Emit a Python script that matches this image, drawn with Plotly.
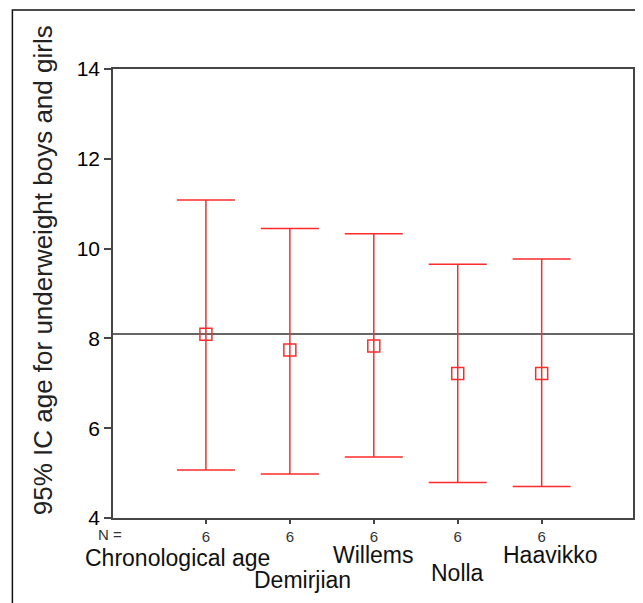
import plotly.graph_objects as go

# ---- data ----
categories = ["Chronological age", "Demirjian", "Willems", "Nolla", "Haavikko"]
n_values = [6, 6, 6, 6, 6]
means = [8.09, 7.74, 7.83, 7.22, 7.22]
upper = [11.08, 10.45, 10.33, 9.65, 9.77]
lower = [5.07, 4.98, 5.36, 4.79, 4.70]
reference_age = 8.1
y_ticks = [4, 6, 8, 10, 12, 14]
y_title = "95% IC age for underweight boys and girls"

# ---- styles / positions ----
FONT = "Liberation Sans, Arial, sans-serif"
RED = "#ff2b2b"
AXIS = "#454545"
label_xshift = [-28, 13, 0, 0, 9]
label_yshift = [-40, -62, -37, -55, -37]

OFF = 8  # page body margin
W, H = 643 - OFF, 603 - OFF
L, T = 113 - OFF, 69 - OFF
R = W - (635 - OFF)
B = H - (518 - OFF)
pw, ph = W - L - R, H - T - B

def px(x):
    return (x - OFF - L) / pw

def py(y):
    return (H - B - (y - OFF)) / ph

xpos = list(range(1, len(categories) + 1))
err_plus = [u - m for u, m in zip(upper, means)]
err_minus = [m - l for m, l in zip(means, lower)]

fig = go.Figure()
fig.add_trace(go.Scatter(
    x=xpos, y=means, mode="markers",
    marker=dict(symbol="square-open", size=12, color=RED, line=dict(width=1.5, color=RED)),
    error_y=dict(type="data", symmetric=False, array=err_plus, arrayminus=err_minus,
                 color=RED, thickness=1.5, width=29),
    showlegend=False, hoverinfo="skip",
))

# reference line
fig.add_shape(type="line", xref="paper", x0=0, x1=1, yref="y", y0=reference_age, y1=reference_age,
              line=dict(color="#333333", width=1.5), layer="below")

# outer frame (top and left edges visible)
fig.add_shape(type="path", xref="paper", yref="paper",
              path=f"M {px(12)} {py(603)} L {px(12)} {py(10)} L {px(643)} {py(10)}",
              line=dict(color="#111111", width=1.5))

annotations = []
for i, c in enumerate(categories):
    annotations.append(dict(x=xpos[i], xref="x", y=0, yref="paper", text=c, showarrow=False,
                            xanchor="center", yanchor="middle",
                            xshift=label_xshift[i], yshift=label_yshift[i],
                            font=dict(family=FONT, size=23, color="#111111")))
annotations.append(dict(x=px(110), xref="paper", y=0, yref="paper", text="N =", showarrow=False,
                        xanchor="center", yanchor="middle", yshift=-16,
                        font=dict(family=FONT, size=15, color="#333333")))
annotations.append(dict(x=px(43), xref="paper", y=py(270), yref="paper", text=y_title, showarrow=False,
                        textangle=-90, xanchor="center", yanchor="middle",
                        font=dict(family=FONT, size=26, color="#222222")))

fig.update_layout(
    width=W, height=H,
    margin=dict(l=L, r=R, t=T, b=B, pad=0),
    paper_bgcolor="white", plot_bgcolor="white",
    annotations=annotations,
    xaxis=dict(range=[-0.107, 6.088], tickvals=xpos, ticktext=[str(n) for n in n_values],
               showgrid=False, zeroline=False, showline=True, linecolor=AXIS, linewidth=1.5,
               mirror=True, ticks="outside", ticklen=4, tickcolor=AXIS, tickwidth=1.5,
               tickfont=dict(family=FONT, size=15, color="#333333")),
    yaxis=dict(range=[4, 14], tickvals=y_ticks, showgrid=False, zeroline=False,
               showline=True, linecolor=AXIS, linewidth=1.5, mirror=True,
               ticks="outside", ticklen=7, tickcolor=AXIS, tickwidth=1.5,
               tickfont=dict(family=FONT, size=21, color="#000000")),
)

fig.write_html("out.html")
